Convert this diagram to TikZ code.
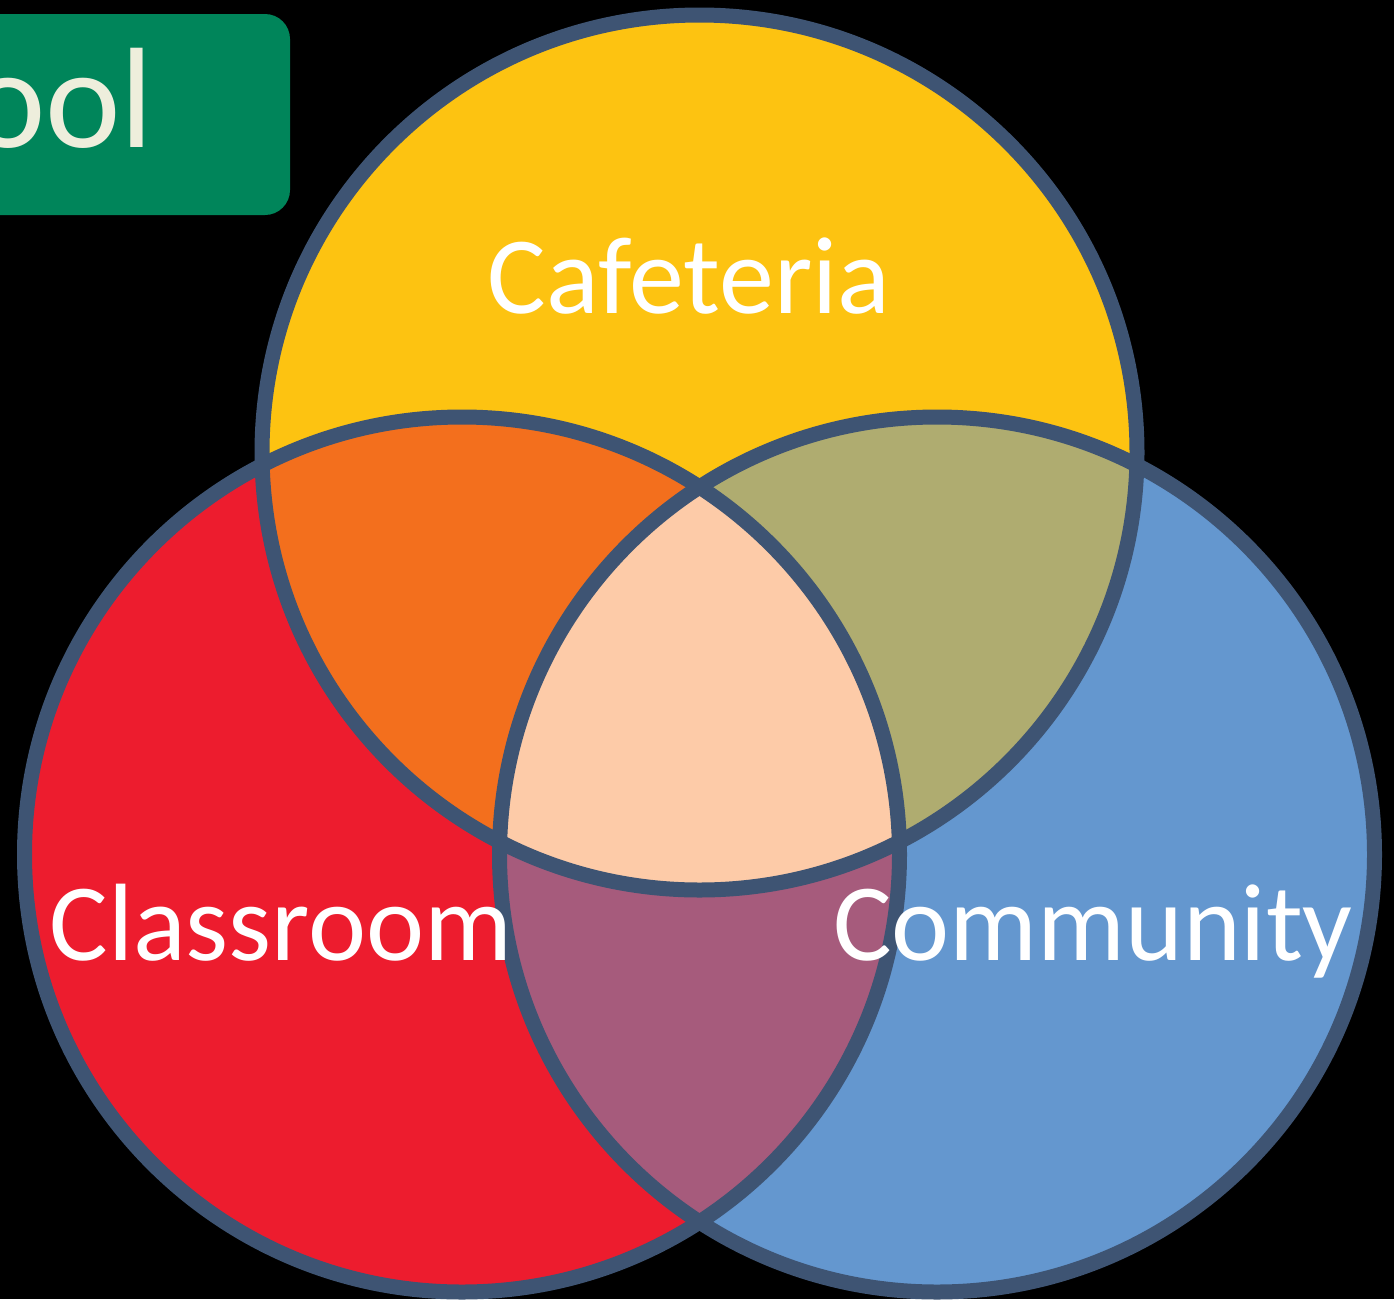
\documentclass[tikz,border=0pt]{standalone}
\usepackage{fontspec}
\setmainfont{Carlito}
\definecolor{cyellow}{HTML}{FDC311}
\definecolor{cred}{HTML}{ED1C2E}
\definecolor{cblue}{HTML}{6497CF}
\definecolor{corange}{HTML}{F36F1D}
\definecolor{colive}{HTML}{AFAC70}
\definecolor{cpeach}{HTML}{FDCBA8}
\definecolor{cmauve}{HTML}{A65B7C}
\definecolor{cline}{HTML}{3E5473}
\definecolor{cgreen}{HTML}{00855A}
\definecolor{ccream}{HTML}{EEEEDC}
\tikzset{
  ring/.style={draw=cline, line width=15pt},
  biglabel/.style={text=white, inner sep=0pt, anchor=base, font=\fontsize{110}{130}\selectfont},
}
\newcommand{\rad}{437.5}
\begin{document}
\begin{tikzpicture}[x=1pt,y=-1pt]
\fill[black] (0,0) rectangle (1394,1299);
\useasboundingbox (0,0) rectangle (1394,1299);
% title box
\fill[cgreen, rounded corners=25pt] (-60,14) rectangle (290,215);
\node[text=ccream, inner sep=0pt, anchor=base east, font=\fontsize{143}{160}\selectfont] (title) at (154,147) {ool};
% centres
\coordinate (ctop) at (699.5,452.5);
\coordinate (cleft) at (462,854.5);
\coordinate (cright) at (937,854.5);
% base fills
\fill[cyellow] (ctop) circle (\rad);
\fill[cred] (cleft) circle (\rad);
\fill[cblue] (cright) circle (\rad);
% pairwise
\begin{scope}
  \clip (ctop) circle (\rad);
  \fill[corange] (cleft) circle (\rad);
\end{scope}
\begin{scope}
  \clip (ctop) circle (\rad);
  \fill[colive] (cright) circle (\rad);
\end{scope}
\begin{scope}
  \clip (cleft) circle (\rad);
  \fill[cmauve] (cright) circle (\rad);
\end{scope}
\begin{scope}
  \clip (ctop) circle (\rad);
  \clip (cleft) circle (\rad);
  \fill[cpeach] (cright) circle (\rad);
\end{scope}
% outlines
\draw[ring] (ctop) circle (\rad);
\draw[ring] (cleft) circle (\rad);
\draw[ring] (cright) circle (\rad);
% labels
\node[biglabel] (caf) at (689,313) {Cafeteria};
\node[biglabel] (cls) at (281,960) {Classroom};
\node[biglabel] (com) at (1093,960) {Community};
\end{tikzpicture}
\end{document}
